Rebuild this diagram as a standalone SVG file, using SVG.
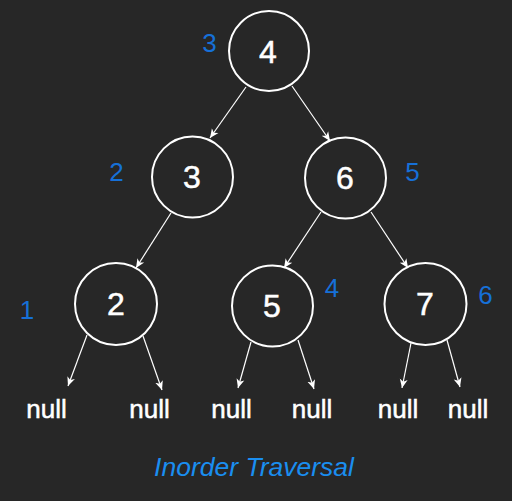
<svg xmlns="http://www.w3.org/2000/svg" width="512" height="501" viewBox="0 0 512 501">
<defs>
<marker id="ah" markerWidth="10" markerHeight="10" refX="9" refY="5" orient="auto" markerUnits="userSpaceOnUse">
<path d="M0,1 L9,5 L0,9 L2.5,5 Z" fill="#ffffff"/>
</marker>
<style>
.node circle{fill:none;stroke:#ffffff;stroke-width:2}
.node text{fill:#ffffff;stroke:#ffffff;stroke-width:0.5;font-family:"Liberation Sans",Arial,sans-serif;font-size:32px;text-anchor:middle}
.ord{fill:#1670d8;font-family:"Liberation Sans",Arial,sans-serif;font-size:26px;text-anchor:middle}
.null{fill:#ffffff;stroke:#ffffff;stroke-width:0.5;font-family:"Liberation Sans",Arial,sans-serif;font-size:26px;text-anchor:middle}
.edges line{stroke:#ffffff;stroke-width:1.2;marker-end:url(#ah)}
</style>
</defs>
<rect width="512" height="501" fill="#272727"/>
<g id="connectors" class="edges">
<line x1="246" y1="87" x2="210" y2="138"/>
<line x1="292" y1="86" x2="330" y2="141"/>
<line x1="171" y1="213" x2="136" y2="268"/>
<line x1="321" y1="212" x2="284" y2="268"/>
<line x1="371" y1="212" x2="408" y2="268"/>
<line x1="87" y1="335" x2="68" y2="386"/>
<line x1="143" y1="336" x2="162" y2="390"/>
<line x1="251" y1="342" x2="238" y2="388"/>
<line x1="298" y1="340" x2="314" y2="389"/>
<line x1="411" y1="343" x2="402" y2="388"/>
<line x1="447" y1="340" x2="460" y2="387"/>
</g>
<g id="node-4" class="node"><circle cx="269" cy="51" r="40"/><text x="268" y="62.5">4</text></g>
<g id="node-3" class="node"><circle cx="192.5" cy="177" r="40.5"/><text x="192" y="187.5">3</text></g>
<g id="node-6" class="node"><circle cx="345.5" cy="178" r="40.5"/><text x="345" y="189">6</text></g>
<g id="node-2" class="node"><circle cx="116" cy="304" r="41"/><text x="116" y="315">2</text></g>
<g id="node-5" class="node"><circle cx="272.5" cy="306" r="40.5"/><text x="272" y="317">5</text></g>
<g id="node-7" class="node"><circle cx="425.5" cy="304" r="41"/><text x="425" y="315">7</text></g>
<g id="order-labels">
<text class="ord" x="209.5" y="51.5">3</text>
<text class="ord" x="116.5" y="181">2</text>
<text class="ord" x="412.5" y="181">5</text>
<text class="ord" x="27" y="319">1</text>
<text class="ord" x="332" y="296.5">4</text>
<text class="ord" x="485.5" y="304">6</text>
</g>
<g id="nulls">
<text class="null" x="46.5" y="418">null</text>
<text class="null" x="149.5" y="418">null</text>
<text class="null" x="231.5" y="418">null</text>
<text class="null" x="312" y="418">null</text>
<text class="null" x="398" y="418">null</text>
<text class="null" x="468" y="418">null</text>
</g>
<text id="title" x="254" y="476" fill="#1a8ef0" font-family="'Liberation Sans',Arial,sans-serif" font-size="26.5" font-style="italic" text-anchor="middle">Inorder Traversal</text>
</svg>
